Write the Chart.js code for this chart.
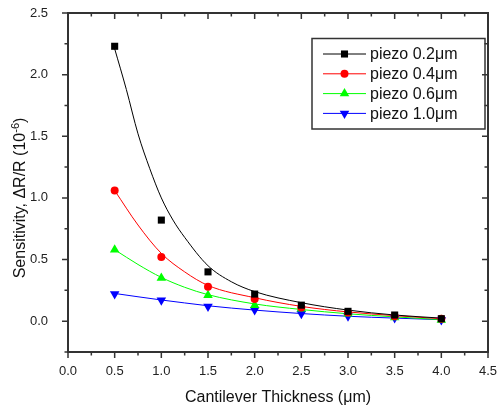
<!DOCTYPE html>
<html lang="en">
<head>
<meta charset="UTF-8">
<title>Sensitivity vs Cantilever Thickness</title>
<script src="https://cdn.jsdelivr.net/npm/chart.js"></script>
<style>
  html, body { margin: 0; padding: 0; background: #fff; }
</style>
</head>
<body>
<canvas id="sensChart" width="501" height="409"></canvas>
<script>
// measured points (thickness in um, sensitivity in 1e-6)
const thickness = [0.5, 1.0, 1.5, 2.0, 2.5, 3.0, 3.5, 4.0];
const piezo02 = [2.23, 0.82, 0.40, 0.22, 0.13, 0.08, 0.05, 0.02];
const piezo04 = [1.06, 0.52, 0.28, 0.18, 0.11, 0.07, 0.04, 0.02];
const piezo06 = [0.58, 0.35, 0.21, 0.13, 0.10, 0.06, 0.03, 0.01];
const piezo10 = [0.22, 0.17, 0.12, 0.09, 0.06, 0.04, 0.025, 0.01];

// fitted decay curves
const fitX02 = [0.5, 0.625, 0.75, 0.875, 1.0, 1.125, 1.25, 1.5, 1.75, 2.0, 2.5, 3.0, 3.5, 4.0];
const fit02 = [2.21, 1.88, 1.52, 1.24, 1.0, 0.82, 0.68, 0.45, 0.32, 0.24, 0.15, 0.09, 0.05, 0.025];
const fitX = [0.5, 0.75, 1.0, 1.25, 1.5, 2.0, 2.5, 3.0, 3.5, 4.0];
const fit04 = [1.06, 0.78, 0.55, 0.40, 0.29, 0.19, 0.12, 0.075, 0.045, 0.02];
const fit06 = [0.58, 0.46, 0.355, 0.275, 0.215, 0.14, 0.095, 0.06, 0.035, 0.012];
const fit10 = [0.225, 0.198, 0.172, 0.148, 0.125, 0.09, 0.062, 0.04, 0.025, 0.012];

const seriesNames = ['piezo 0.2\u03bcm', 'piezo 0.4\u03bcm', 'piezo 0.6\u03bcm', 'piezo 1.0\u03bcm'];

// axis ticks
const xMajor = [0, 0.5, 1.0, 1.5, 2.0, 2.5, 3.0, 3.5, 4.0, 4.5];
const xMinor = [0.25, 0.75, 1.25, 1.75, 2.25, 2.75, 3.25, 3.75, 4.25];
const yMajor = [0, 0.5, 1.0, 1.5, 2.0, 2.5];
const yMinor = [-0.25, 0.25, 0.75, 1.25, 1.75, 2.25];

const FONT = '"Liberation Sans", Arial, sans-serif';

const toXY = (xs, ys) => xs.map((x, i) => ({ x: x, y: ys[i] }));

const styles = [
    { color: '#000000', pointStyle: 'rect', radius: 5, rotation: 0 },
    { color: '#ff0000', pointStyle: 'circle', radius: 4, rotation: 0 },
    { color: '#00ff00', pointStyle: 'triangle', radius: 5.5, rotation: 0 },
    { color: '#0000ff', pointStyle: 'triangle', radius: 5.5, rotation: 180 }
];
const pointSets = [piezo02, piezo04, piezo06, piezo10];
const fitSets = [toXY(fitX02, fit02), toXY(fitX, fit04), toXY(fitX, fit06), toXY(fitX, fit10)];

const datasets = [];
fitSets.forEach((d, i) => {
    datasets.push({
        label: seriesNames[i] + ' fit',
        data: d,
        showLine: true,
        borderColor: styles[i].color,
        borderWidth: 1,
        pointRadius: 0,
        cubicInterpolationMode: 'monotone',
        order: 2
    });
});
pointSets.forEach((ys, i) => {
    datasets.push({
        label: seriesNames[i],
        data: toXY(thickness, ys),
        showLine: false,
        pointStyle: styles[i].pointStyle,
        pointRadius: styles[i].radius,
        pointRotation: styles[i].rotation,
        backgroundColor: styles[i].color,
        borderColor: styles[i].color,
        borderWidth: 0,
        order: 1
    });
});

// frame with outward/inward tick marks like Origin
const framePlugin = {
    id: 'frame',
    beforeDatasetsDraw(chart) {
        const { ctx, chartArea: a, scales: { x, y } } = chart;
        ctx.save();
        ctx.strokeStyle = '#333';
        ctx.lineWidth = 2;
        ctx.strokeRect(a.left, a.top, a.right - a.left, a.bottom - a.top);
        const tick = (vals, len) => {
            vals.forEach(v => {
                const px = x.getPixelForValue(v);
                ctx.beginPath();
                ctx.moveTo(px, a.bottom); ctx.lineTo(px, a.bottom + len);
                ctx.moveTo(px, a.top); ctx.lineTo(px, a.top + len);
                ctx.stroke();
            });
        };
        const tickY = (vals, len) => {
            vals.forEach(v => {
                const py = y.getPixelForValue(v);
                ctx.beginPath();
                ctx.moveTo(a.left, py); ctx.lineTo(a.left - len, py);
                ctx.moveTo(a.right, py); ctx.lineTo(a.right - len, py);
                ctx.stroke();
            });
        };
        ctx.lineWidth = 1.5;
        tick(xMajor, 6); tick(xMinor, 3.5);
        tickY(yMajor, 6); tickY(yMinor, 3.5);
        ctx.restore();
    }
};

// axis titles (y title needs a superscript)
const titlePlugin = {
    id: 'titles',
    afterDraw(chart) {
        const { ctx, chartArea: a } = chart;
        ctx.save();
        ctx.fillStyle = '#111';
        ctx.font = '16px ' + FONT;
        ctx.textAlign = 'center';
        ctx.textBaseline = 'alphabetic';
        ctx.fillText('Cantilever Thickness (\u03bcm)', (a.left + a.right) / 2, 402);

        const main = 'Sensitivity, \u0394R/R (10';
        const sup = '-6';
        const tail = ')';
        ctx.font = '16px ' + FONT;
        const w1 = ctx.measureText(main).width;
        const w3 = ctx.measureText(tail).width;
        ctx.font = '11px ' + FONT;
        const w2 = ctx.measureText(sup).width;
        const total = w1 + w2 + w3;
        ctx.translate(25, 198);
        ctx.rotate(-Math.PI / 2);
        ctx.textAlign = 'left';
        let sx = -total / 2;
        ctx.font = '16px ' + FONT;
        ctx.fillText(main, sx, 0);
        sx += w1;
        ctx.font = '11px ' + FONT;
        ctx.fillText(sup, sx, -6.5);
        sx += w2;
        ctx.font = '16px ' + FONT;
        ctx.fillText(tail, sx, 0);
        ctx.restore();
    }
};

// boxed legend inside the plot
const legendPlugin = {
    id: 'innerLegend',
    afterDraw(chart) {
        const { ctx } = chart;
        const box = { left: 312, top: 38.5, width: 173, height: 90.5 };
        ctx.save();
        ctx.strokeStyle = '#333';
        ctx.lineWidth = 1.5;
        ctx.strokeRect(box.left, box.top, box.width, box.height);
        ctx.font = '16px ' + FONT;
        ctx.textBaseline = 'middle';
        ctx.textAlign = 'left';
        seriesNames.forEach((name, i) => {
            const yy = 54 + i * 19.8;
            const st = styles[i];
            ctx.strokeStyle = st.color;
            ctx.lineWidth = 1;
            ctx.beginPath();
            ctx.moveTo(323, yy); ctx.lineTo(366, yy);
            ctx.stroke();
            ctx.fillStyle = st.color;
            Chart.helpers.drawPoint(ctx, {
                pointStyle: st.pointStyle, radius: st.radius,
                rotation: st.rotation, borderWidth: 0
            }, 344.5, yy);
            ctx.fillStyle = '#111';
            ctx.fillText(name, 370, yy + 1);
        });
        ctx.restore();
    }
};

const ctx = document.getElementById('sensChart').getContext('2d');
new Chart(ctx, {
    type: 'scatter',
    data: { datasets: datasets },
    options: {
        responsive: false,
        animation: false,
        layout: { padding: { top: 13, right: 13, left: 0, bottom: 0 } },
        plugins: { legend: { display: false }, tooltip: { enabled: false } },
        scales: {
            x: {
                type: 'linear',
                min: 0, max: 4.5,
                afterFit: s => { s.height = 57; s.paddingLeft = 0; s.paddingRight = 0; },
                afterBuildTicks: s => { s.ticks = xMajor.map(v => ({ value: v })); },
                grid: { display: false },
                border: { display: false },
                ticks: {
                    padding: 4,
                    color: '#222',
                    font: { family: FONT, size: 13 },
                    maxRotation: 0,
                    callback: v => v.toFixed(1)
                }
            },
            y: {
                type: 'linear',
                min: -0.25, max: 2.5,
                afterFit: s => { s.width = 68; s.paddingTop = 0; s.paddingBottom = 0; },
                afterBuildTicks: s => { s.ticks = yMajor.map(v => ({ value: v })); },
                grid: { display: false },
                border: { display: false },
                ticks: {
                    padding: 12,
                    color: '#222',
                    font: { family: FONT, size: 13 },
                    callback: v => v.toFixed(1)
                }
            }
        }
    },
    plugins: [framePlugin, titlePlugin, legendPlugin]
});
</script>
</body>
</html>
